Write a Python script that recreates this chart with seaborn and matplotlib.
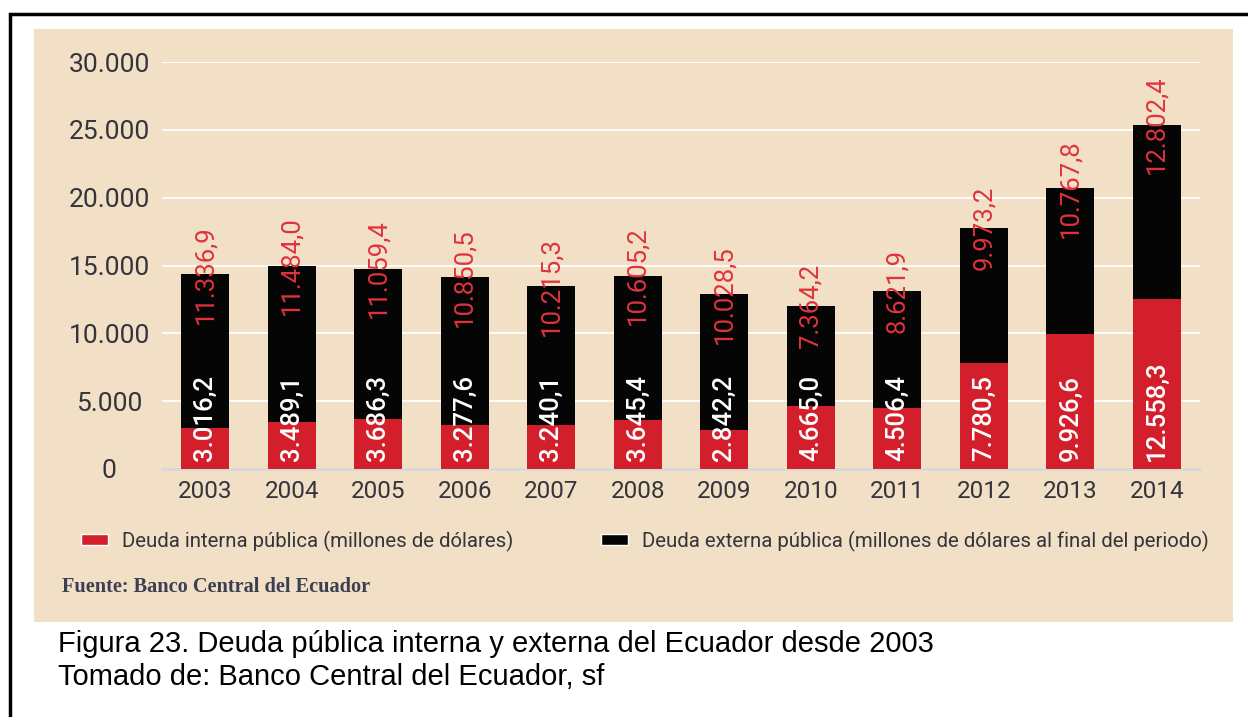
import matplotlib
matplotlib.use("Agg")
import matplotlib.pyplot as plt
import seaborn as sns
import pandas as pd
from matplotlib.patches import Rectangle, Patch

# ── Data (millones de dólares) ─────────────────────────────────────
years = ["2003", "2004", "2005", "2006", "2007", "2008",
         "2009", "2010", "2011", "2012", "2013", "2014"]
deuda_interna = [3016.2, 3489.1, 3686.3, 3277.6, 3240.1, 3645.4,
                 2842.2, 4665.0, 4506.4, 7780.5, 9926.6, 12558.3]
deuda_externa = [11336.9, 11484.0, 11059.4, 10850.5, 10215.3, 10605.2,
                 10028.5, 7364.2, 8621.9, 9973.2, 10767.8, 12802.4]
y_ticks = [0, 5000, 10000, 15000, 20000, 25000, 30000]

label_interna = "Deuda interna pública (millones de dólares)"
label_externa = "Deuda externa pública (millones de dólares al final del periodo)"
fuente = "Fuente: Banco Central del Ecuador"
caption = ["Figura 23. Deuda pública interna y externa del Ecuador desde 2003",
           "Tomado de: Banco Central del Ecuador, sf"]

RED = "#d21f2b"
BLACK = "#050505"
BEIGE = "#f1dfc6"
TXT = "#34343c"


def es_fmt(v):
    # 12558.3 -> 12.558,3
    return f"{v:,.1f}".replace(",", "X").replace(".", ",").replace("X", ".")


df = pd.DataFrame({"year": years, "interna": deuda_interna, "externa": deuda_externa})
df["total"] = df["interna"] + df["externa"]

sns.set_theme(style="white")
plt.rcParams["font.family"] = ["Roboto", "DejaVu Sans"]

fig = plt.figure(figsize=(12.48, 7.17), dpi=100)
fig.patch.set_facecolor("white")

# beige panel + outer border
fig.patches.append(Rectangle((34 / 1248, 1 - 622 / 717), (1233 - 34) / 1248, (622 - 29) / 717,
                             transform=fig.transFigure, facecolor=BEIGE, edgecolor="none", zorder=-2))
fig.patches.append(Rectangle((10 / 1248, -0.05), 1.2, 1.05 - 14 / 717,
                             transform=fig.transFigure, facecolor="none", edgecolor="black",
                             lw=2.5, zorder=-1))

ax = fig.add_axes([162 / 1248, 1 - 469 / 717, (1200 - 162) / 1248, (469 - 62) / 717])
ax.set_facecolor("none")

# stacked bars: total in black, interna in red on top
sns.barplot(data=df, x="year", y="total", color=BLACK, width=0.55, errorbar=None,
            saturation=1, linewidth=0, ax=ax, zorder=3)
sns.barplot(data=df, x="year", y="interna", color=RED, width=0.55, errorbar=None,
            saturation=1, linewidth=0, ax=ax, zorder=3)

ax.set_ylim(0, 30000)
ax.set_xlim(-0.5, len(years) - 0.5)
ax.set_yticks(y_ticks)
ax.set_yticklabels([es_fmt(t)[:-2] if t else "0" for t in y_ticks])
for t in ax.get_yticklabels():
    t.set_horizontalalignment("center")
ax.tick_params(axis="y", length=0, pad=38, labelsize=19, labelcolor=TXT)
ax.tick_params(axis="x", length=0, pad=8, labelsize=17.5, labelcolor=TXT)
ax.set_xlabel("")
ax.set_ylabel("")
for s in ["top", "right", "left"]:
    ax.spines[s].set_visible(False)
ax.spines["bottom"].set_color("#d9d9d9")
ax.spines["bottom"].set_linewidth(2)
ax.spines["bottom"].set_zorder(2)
for t in y_ticks[1:]:
    ax.axhline(t, color="white", lw=1.3, zorder=1)

# value labels
for i, (vi, ve, tot) in enumerate(zip(df["interna"], df["externa"], df["total"])):
    ax.text(i, 600, es_fmt(vi), rotation=90, ha="center", va="bottom",
            color="white", fontsize=18.5, fontweight="medium", zorder=5)
    ax.text(i, tot, es_fmt(ve), rotation=90, ha="center", va="center",
            color="#e0323c", fontsize=18.5, zorder=5, clip_on=False)

# legend
handles = [Patch(facecolor=RED, label=label_interna), Patch(facecolor=BLACK, label=label_externa)]
fig.legend(handles=handles, loc="center left", bbox_to_anchor=(81 / 1248, 1 - 541 / 717),
           ncol=2, frameon=False, handlelength=1.33, handleheight=0.4, handletextpad=0.68,
           columnspacing=4.3, borderaxespad=0, borderpad=0,
           prop={"size": 14.7}, labelcolor=TXT)

fig.text(62 / 1248, 1 - 587 / 717, fuente, ha="left", va="center", fontsize=14.6,
         family=["Liberation Serif", "DejaVu Serif"], fontweight="bold", color="#3c3f52")

fig.text(58 / 1248, 1 - 644 / 717, caption[0], ha="left", va="center", fontsize=21,
         family=["Liberation Sans", "DejaVu Sans"], color="black")
fig.text(58 / 1248, 1 - 677 / 717, caption[1], ha="left", va="center", fontsize=21,
         family=["Liberation Sans", "DejaVu Sans"], color="black")

fig.savefig("out.png", dpi=100, facecolor="white")
